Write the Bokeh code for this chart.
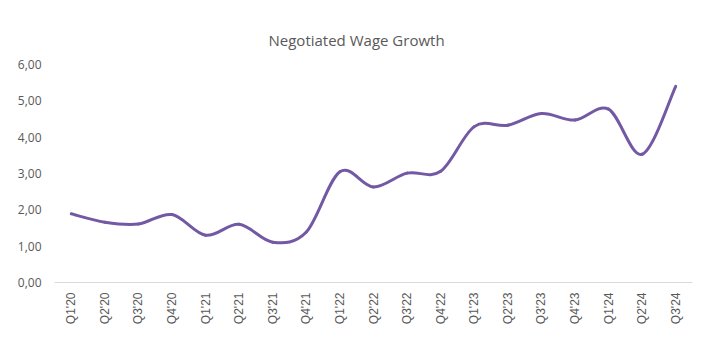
import math
from bokeh.plotting import figure
from bokeh.models import Range1d, FixedTicker, CustomJSTickFormatter, ColumnDataSource
from bokeh.embed import file_html
from bokeh.resources import INLINE

quarters = ["Q1'20", "Q2'20", "Q3'20", "Q4'20", "Q1'21", "Q2'21", "Q3'21", "Q4'21",
            "Q1'22", "Q2'22", "Q3'22", "Q4'22", "Q1'23", "Q2'23", "Q3'23", "Q4'23",
            "Q1'24", "Q2'24", "Q3'24"]
wage_growth = [1.89, 1.66, 1.61, 1.87, 1.30, 1.60, 1.11, 1.39,
               3.05, 2.63, 3.01, 3.06, 4.29, 4.33, 4.65, 4.47,
               4.77, 3.53, 5.40]
y_ticks = [0, 1, 2, 3, 4, 5, 6]

n = len(wage_growth)
xs = list(range(n))

# smoothed line (Catmull-Rom style bezier segments through the data points)
def pt(i):
    i = max(0, min(n - 1, i))
    return xs[i], wage_growth[i]

x0, y0, x1, y1, cx0, cy0, cx1, cy1 = [], [], [], [], [], [], [], []
for i in range(n - 1):
    ax, ay = pt(i)
    bx, by = pt(i + 1)
    px, py = pt(i - 1)
    qx, qy = pt(i + 2)
    x0.append(ax); y0.append(ay); x1.append(bx); y1.append(by)
    cx0.append(ax + (bx - px) / 6.0); cy0.append(ay + (by - py) / 6.0)
    cx1.append(bx - (qx - ax) / 6.0); cy1.append(by - (qy - ay) / 6.0)

src = ColumnDataSource(dict(x0=x0, y0=y0, x1=x1, y1=y1, cx0=cx0, cy0=cy0, cx1=cx1, cy1=cy1))

p = figure(width=711, height=351, output_backend="svg", toolbar_location=None,
           x_range=Range1d(-0.5, n - 0.5), y_range=Range1d(0, 6),
           min_border_left=54, min_border_right=19, min_border_top=64, min_border_bottom=69)

p.bezier(x0="x0", y0="y0", x1="x1", y1="y1", cx0="cx0", cy0="cy0", cx1="cx1", cy1="cy1",
         source=src, line_color="#7359A3", line_width=3, line_cap="round", line_join="round")

p.title.text = "Negotiated Wage Growth"
p.title.align = "left"
p.title.offset = 214
p.title.text_font = "Open Sans"
p.title.text_font_size = "15px"
p.title.text_font_style = "normal"
p.title.text_color = "#595959"
p.title.standoff = 30

p.outline_line_color = None
p.xgrid.grid_line_color = None
p.ygrid.grid_line_color = None
p.background_fill_color = "white"
p.border_fill_color = "white"

# x axis
p.xaxis.ticker = FixedTicker(ticks=xs)
p.xaxis.major_label_overrides = {i: q for i, q in enumerate(quarters)}
p.xaxis.major_label_orientation = math.pi / 2
p.xaxis.axis_line_color = "#d9d9d9"
p.xaxis.axis_line_width = 1
p.xaxis.major_tick_line_color = None
p.xaxis.major_tick_out = 0
p.xaxis.major_tick_in = 0
p.xaxis.minor_tick_line_color = None
p.xaxis.minor_tick_out = 0
p.xaxis.major_label_text_font = "Liberation Sans"
p.xaxis.major_label_text_font_size = "12px"
p.xaxis.major_label_text_color = "#595959"
p.xaxis.major_label_standoff = 10

# y axis
p.yaxis.ticker = FixedTicker(ticks=y_ticks)
p.yaxis.formatter = CustomJSTickFormatter(code="return tick.toFixed(2).replace('.', ',');")
p.yaxis.axis_line_color = None
p.yaxis.major_tick_line_color = None
p.yaxis.major_tick_out = 0
p.yaxis.major_tick_in = 0
p.yaxis.minor_tick_line_color = None
p.yaxis.minor_tick_out = 0
p.yaxis.major_label_text_font = "Open Sans"
p.yaxis.major_label_text_font_size = "12px"
p.yaxis.major_label_text_color = "#595959"
p.yaxis.major_label_standoff = 13

open("out.html", "w").write(file_html(p, INLINE))
